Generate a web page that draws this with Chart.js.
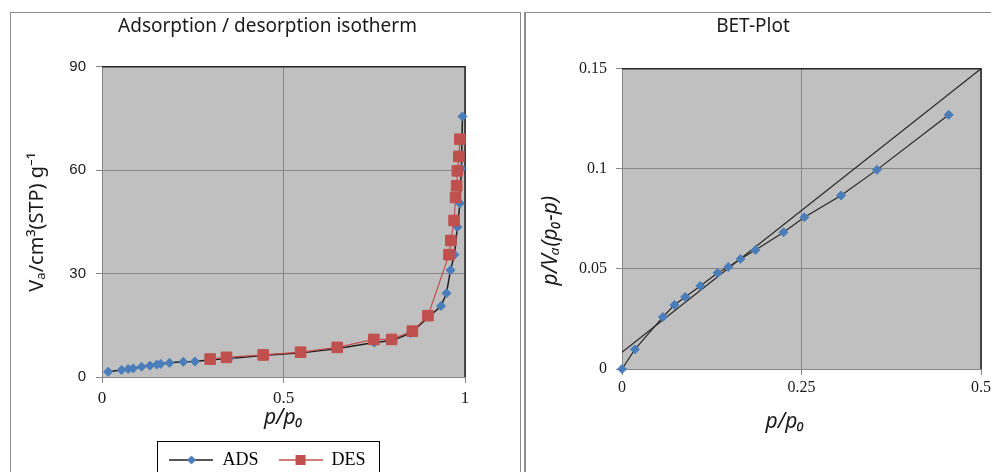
<!DOCTYPE html>
<html>
<head>
<meta charset="utf-8">
<script src="https://cdn.jsdelivr.net/npm/chart.js@4.4.1/dist/chart.umd.min.js"></script>
<style>
  html, body { margin: 0; padding: 0; background: #fff; width: 991px; height: 472px; overflow: hidden; }
  .marco { position: absolute; box-sizing: border-box; border: 1px solid #8c8c8c; }
  #marcoIzq { left: 10px; top: 12px; width: 511px; height: 480px; }
  #marcoDer { left: 524px; top: 12px; width: 480px; height: 480px; border-left-width: 2px; }
  #graficaIzq { position: absolute; left: 0; top: 0; }
  #graficaDer { position: absolute; left: 525px; top: 0; }
</style>
</head>
<body>
<div class="marco" id="marcoIzq"></div>
<div class="marco" id="marcoDer"></div>
<canvas id="graficaIzq" width="535" height="479"></canvas>
<canvas id="graficaDer" width="478" height="472"></canvas>
<script>
// Isoterma: adsorción
const presionAds = [0.017, 0.054, 0.072, 0.086, 0.109, 0.132, 0.151, 0.162, 0.186, 0.224, 0.256,
  0.30, 0.35, 0.45, 0.55, 0.65, 0.75, 0.80, 0.85, 0.934, 0.949, 0.96, 0.971, 0.979, 0.986, 0.99, 0.993];
const volumenAds = [1.5, 2.0, 2.3, 2.5, 3.0, 3.3, 3.6, 3.8, 4.1, 4.4, 4.5,
  5.0, 5.4, 6.3, 7.0, 8.3, 10.0, 10.6, 12.7, 20.6, 24.3, 31.0, 35.5, 43.5, 50.4, 60.5, 75.6];

// Isoterma: desorción
const presionDes = [0.298, 0.343, 0.444, 0.547, 0.648, 0.749, 0.798, 0.855, 0.898,
  0.956, 0.961, 0.970, 0.974, 0.977, 0.979, 0.983, 0.986];
const volumenDes = [5.2, 5.7, 6.4, 7.2, 8.6, 10.9, 10.9, 13.3, 17.8,
  35.5, 39.6, 45.4, 52.1, 55.5, 59.8, 64.0, 69.0];

// BET
const presionBet = [0, 0.018, 0.057, 0.073, 0.088, 0.109, 0.133, 0.148, 0.165, 0.186, 0.225, 0.254, 0.305, 0.355, 0.455];
const valorBet = [0, 0.0098, 0.026, 0.032, 0.036, 0.0415, 0.048, 0.051, 0.055, 0.0595, 0.0683, 0.0758, 0.0867, 0.0995, 0.127];
const ajusteX = [0, 0.5];
const ajusteY = [0.0084, 0.15];

// marcas de los ejes
const ticksIzqX = [0, 0.5, 1];
const ticksIzqY = [0, 30, 60, 90];
const ticksDerX = [0, 0.25, 0.5];
const ticksDerY = [0, 0.05, 0.1, 0.15];

const AZUL = '#4a7ebb';
const ROJO = '#c0504d';
const GRIS = '#868686';
const SANS = "'Noto Sans', 'DejaVu Sans', sans-serif";
const SERIF = "'Liberation Serif', 'DejaVu Serif', serif";

function puntos(xs, ys) {
  return xs.map((x, i) => ({ x: x, y: ys[i] }));
}

function fijarTicks(valores) {
  return escala => { escala.ticks = valores.map(v => ({ value: v })); };
}

// fondo gris del área y borde oscuro arriba/derecha
const fondoArea = {
  id: 'fondoArea',
  beforeDraw(chart) {
    const { ctx, chartArea: a } = chart;
    ctx.save();
    ctx.fillStyle = '#c0c0c0';
    ctx.fillRect(a.left, a.top, a.right - a.left, a.bottom - a.top);
    ctx.restore();
  },
  beforeDatasetsDraw(chart) {
    const { ctx, chartArea: a } = chart;
    ctx.save();
    ctx.strokeStyle = '#262626';
    ctx.lineWidth = 1.5;
    ctx.beginPath();
    ctx.moveTo(a.left, a.top);
    ctx.lineTo(a.right, a.top);
    ctx.lineTo(a.right, a.bottom);
    ctx.stroke();
    ctx.restore();
  }
};

// recuadro alrededor de la leyenda
const marcoLeyenda = {
  id: 'marcoLeyenda',
  afterDraw(chart) {
    const cajas = chart.legend && chart.legend.legendHitBoxes;
    if (!cajas || !cajas.length) return;
    const ultima = cajas[cajas.length - 1];
    const izq = Math.round(cajas[0].left - 12) + 0.5;
    const der = Math.round(ultima.left + ultima.width + 13) + 0.5;
    const arriba = Math.round(chart.legend.top + 10) + 0.5;
    const ctx = chart.ctx;
    ctx.save();
    ctx.strokeStyle = '#000';
    ctx.lineWidth = 1;
    ctx.strokeRect(izq, arriba, der - izq, chart.height);
    ctx.restore();
  }
};

function iconoLeyenda(colorLinea, colorMarca, forma) {
  const c = document.createElement('canvas');
  c.width = 44;
  c.height = 16;
  const g = c.getContext('2d');
  g.strokeStyle = colorLinea;
  g.lineWidth = 1.5;
  g.beginPath();
  g.moveTo(0, 8);
  g.lineTo(44, 8);
  g.stroke();
  g.fillStyle = colorMarca;
  if (forma === 'rombo') {
    g.beginPath();
    g.moveTo(22, 3.5);
    g.lineTo(26.5, 8);
    g.lineTo(22, 12.5);
    g.lineTo(17.5, 8);
    g.closePath();
    g.fill();
  } else {
    g.fillRect(17, 3, 10, 10);
  }
  return c;
}

const iconoAds = iconoLeyenda('#1f1f1f', AZUL, 'rombo');
const iconoDes = iconoLeyenda(ROJO, ROJO, 'cuadro');

const formato = v => String(v);

new Chart(document.getElementById('graficaIzq'), {
  type: 'line',
  data: {
    datasets: [
      {
        label: 'ADS',
        data: puntos(presionAds, volumenAds),
        borderColor: '#1f1f1f',
        borderWidth: 1.5,
        pointStyle: 'rectRot',
        pointRadius: 4.5,
        pointBackgroundColor: AZUL,
        pointBorderColor: AZUL,
        pointBorderWidth: 1,
        tension: 0,
        clip: false,
        order: 1
      },
      {
        label: 'DES',
        data: puntos(presionDes, volumenDes),
        borderColor: ROJO,
        borderWidth: 1.2,
        pointStyle: 'rect',
        pointRadius: 7.5,
        pointBackgroundColor: ROJO,
        pointBorderColor: ROJO,
        pointBorderWidth: 1,
        tension: 0,
        clip: false,
        order: 0
      }
    ]
  },
  options: {
    responsive: false,
    animation: false,
    events: [],
    layout: { padding: 0 },
    scales: {
      x: {
        type: 'linear',
        min: 0,
        max: 1,
        afterBuildTicks: fijarTicks(ticksIzqX),
        afterFit: escala => { escala.height = 54; },
        ticks: { callback: formato, color: '#1a1a1a', padding: 5, font: { family: SERIF, size: 17 } },
        grid: { color: GRIS, lineWidth: 1, tickLength: 6 },
        border: { color: GRIS },
        title: {
          display: true,
          text: 'p/p₀',
          color: '#1a1a1a',
          font: { family: SANS, size: 21, style: 'italic' },
          padding: { top: 0, bottom: 0 }
        }
      },
      y: {
        type: 'linear',
        min: 0,
        max: 90,
        afterBuildTicks: fijarTicks(ticksIzqY),
        afterFit: escala => { escala.width = 102; },
        ticks: { callback: formato, color: '#1a1a1a', padding: 10, font: { family: "'Liberation Sans', sans-serif", size: 15 } },
        grid: { color: GRIS, lineWidth: 1, tickLength: 6 },
        border: { color: GRIS },
        title: {
          display: true,
          text: 'Vₐ/cm³(STP) g⁻¹',
          color: '#1a1a1a',
          font: { family: SANS, size: 20 },
          padding: { top: 25, bottom: 0 }
        }
      },
      // eje vacío para dejar el margen derecho
      yDer: {
        type: 'linear',
        position: 'right',
        display: true,
        grid: { display: false },
        border: { display: false },
        ticks: { display: false },
        afterFit: escala => { escala.width = 70; }
      }
    },
    plugins: {
      title: {
        display: true,
        text: 'Adsorption / desorption isotherm',
        color: '#1a1a1a',
        font: { family: SANS, size: 19, weight: 'normal' },
        padding: { top: 15, bottom: 29 }
      },
      legend: {
        display: true,
        position: 'bottom',
        labels: {
          usePointStyle: true,
          pointStyleWidth: 44,
          padding: 20,
          color: '#000',
          font: { family: SERIF, size: 18 },
          generateLabels: () => [
            { text: 'ADS', pointStyle: iconoAds, fillStyle: AZUL, strokeStyle: AZUL, lineWidth: 0, fontColor: '#000', datasetIndex: 0 },
            { text: 'DES', pointStyle: iconoDes, fillStyle: ROJO, strokeStyle: ROJO, lineWidth: 0, fontColor: '#000', datasetIndex: 1 }
          ]
        }
      },
      tooltip: { enabled: false }
    }
  },
  plugins: [fondoArea, marcoLeyenda]
});

new Chart(document.getElementById('graficaDer'), {
  type: 'line',
  data: {
    datasets: [
      {
        label: 'BET',
        data: puntos(presionBet, valorBet),
        borderColor: '#262626',
        borderWidth: 1.2,
        pointStyle: 'rectRot',
        pointRadius: 4.5,
        pointBackgroundColor: AZUL,
        pointBorderColor: AZUL,
        pointBorderWidth: 1,
        tension: 0,
        clip: false,
        order: 0
      },
      {
        label: 'Ajuste',
        data: puntos(ajusteX, ajusteY),
        borderColor: '#262626',
        borderWidth: 1.2,
        pointRadius: 0,
        tension: 0,
        order: 1
      }
    ]
  },
  options: {
    responsive: false,
    animation: false,
    events: [],
    layout: { padding: { left: 0, right: 22, top: 0, bottom: 0 } },
    scales: {
      x: {
        type: 'linear',
        min: 0,
        max: 0.5,
        afterBuildTicks: fijarTicks(ticksDerX),
        afterFit: escala => { escala.height = 103; },
        ticks: { callback: formato, color: '#1a1a1a', padding: 3, font: { family: SERIF, size: 16 } },
        grid: { color: GRIS, lineWidth: 1, tickLength: 6 },
        border: { color: GRIS },
        title: {
          display: true,
          text: 'p/p₀      ',
          color: '#1a1a1a',
          font: { family: SANS, size: 21, style: 'italic' },
          padding: { top: 0, bottom: 37 }
        }
      },
      y: {
        type: 'linear',
        min: 0,
        max: 0.15,
        afterBuildTicks: fijarTicks(ticksDerY),
        afterFit: escala => { escala.width = 97; },
        ticks: { callback: formato, color: '#1a1a1a', padding: 9, font: { family: SERIF, size: 16 } },
        grid: { color: GRIS, lineWidth: 1, tickLength: 6 },
        border: { color: GRIS },
        title: {
          display: true,
          text: 'p/Vₐ(p₀-p)        ',
          color: '#1a1a1a',
          font: { family: SANS, size: 21, style: 'italic' },
          padding: { top: 13, bottom: 0 }
        }
      }
    },
    plugins: {
      title: {
        display: true,
        text: 'BET-Plot',
        color: '#1a1a1a',
        font: { family: SANS, size: 19, weight: 'normal' },
        padding: { top: 15, bottom: 31 }
      },
      legend: { display: false },
      tooltip: { enabled: false }
    }
  },
  plugins: [fondoArea]
});
</script>
</body>
</html>
